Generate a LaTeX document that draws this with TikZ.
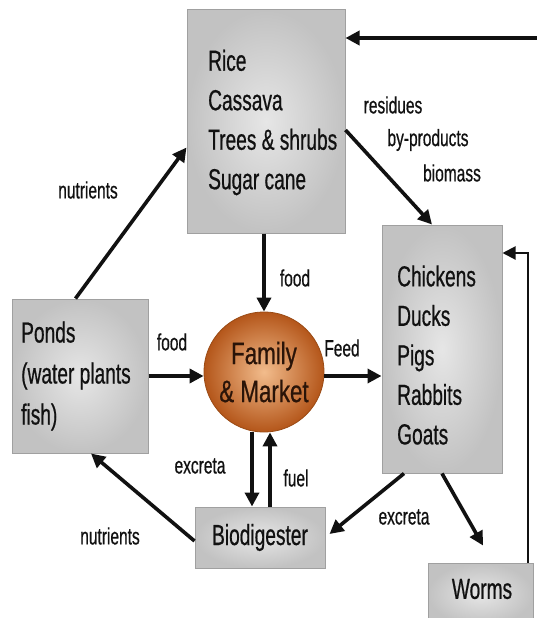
\documentclass[tikz,border=0pt]{standalone}
\usepackage{fontspec}
\setmainfont[FakeStretch=0.66,FakeBold=0.6]{Liberation Sans}
\newfontfamily\circfont[FakeStretch=0.72,FakeBold=0.6]{Liberation Sans}
\usetikzlibrary{arrows.meta,calc}
\definecolor{boxIn}{HTML}{E6E6E6}
\definecolor{boxOut}{HTML}{C2C2C2}
\definecolor{boxLine}{HTML}{A0A0A0}
\definecolor{circIn}{HTML}{F2BC8C}
\definecolor{circOut}{HTML}{B4561A}
\definecolor{circLine}{HTML}{9A4A14}
\definecolor{circText}{HTML}{2A1408}
\definecolor{ink}{HTML}{111111}
\begin{document}
\begin{tikzpicture}[x=1pt,y=-1pt,
  box/.style={draw=boxLine,line width=1pt,inner color=boxIn,outer color=boxOut,rectangle,inner sep=0pt},
  big/.style={font=\fontsize{29}{39.5}\selectfont,text=ink,align=left,inner sep=0pt},
  lbl/.style={font=\fontsize{23.5}{26}\selectfont,text=ink,inner sep=0pt},
  arr/.style={draw=ink,line width=3.6pt,-{Triangle[length=14pt,width=14pt]}},
  thinarr/.style={draw=ink,line width=2pt,-{Triangle[length=13pt,width=13pt]}}]
\clip (0,0) rectangle (537,618);
\fill[white] (0,0) rectangle (537,618);

% boxes
\node[box,minimum width=158pt,minimum height=223pt] (crops) at (266,121.5) {};
\node[big,anchor=west] (cropsT) at (208,122.5) {Rice\\Cassava\\Trees \& shrubs\\Sugar cane};
\node[box,minimum width=120pt,minimum height=248pt] (animals) at (442,349) {};
\node[big,anchor=west] (animalsT) at (397,355) {Chickens\\Ducks\\Pigs\\Rabbits\\Goats};
\node[box,minimum width=136pt,minimum height=154pt] (ponds) at (80,376) {};
\node[big,anchor=west,font=\fontsize{29}{41}\selectfont] (pondsT) at (21,376) {Ponds\\(water plants\\fish)};
\node[box,minimum width=130pt,minimum height=61pt,font=\fontsize{29}{32}\selectfont,text=ink] (bio) at (260,537.5) {Biodigester};
\node[box,minimum width=105pt,minimum height=62pt] (worms) at (480.5,594) {};
\node[big,anchor=center] (wormsT) at (482,589) {Worms};

% centre
\node[circle,minimum size=120pt,draw=circLine,line width=0.8pt,inner color=circIn,outer color=circOut,
      inner sep=0pt,font=\circfont\fontsize{31}{38}\selectfont,text=circText,align=center] (fam) at (264,372) {Family\\\& Market};

% connectors
\coordinate (topR) at (545,38);
\draw[arr] (topR) -- (crops.east |- topR);
\draw[arr] ([xshift=64pt]ponds.north west) -- ([yshift=-26pt]crops.west);
\draw[arr] ([yshift=-8.5pt]crops.east) -- ([xshift=-10pt]animals.north);
\draw[arr] (crops.south -| fam.north) -- (fam.north);
\draw[arr] (ponds.east) -- (fam.west |- ponds.east);
\draw[arr] (fam.east |- ponds.east) -- (animals.west |- ponds.east);
\draw[arr] ($(fam.south)+(-12,0)$) -- ($(bio.north)+(-8,0)$);
\draw[arr] ($(bio.north)+(10,0)$) -- ($(fam.south)+(6,0)$);
\draw[arr] ($(bio.west)+(0,3.5)$) -- ($(ponds.south)+(11,0)$);
\draw[arr] ($(animals.south)+(-38,0)$) -- ($(bio.east)+(4,-3.5)$);
\draw[arr] (animals.south) -- ($(worms.north)+(2.5,-17)$);
\draw[thinarr] ($(worms.north)+(47.5,0)$) |- ($(animals.east)+(0,-96)$);

% labels
\node[lbl] (nutA) at (88,190) {nutrients};
\node[lbl] (resid) at (393,105) {residues};
\node[lbl] (byprod) at (428,140) {by-products};
\node[lbl] (biomass) at (452,173) {biomass};
\node[lbl] (foodA) at (295,278) {food};
\node[lbl] (foodB) at (172,342) {food};
\node[lbl] (feed) at (342,348) {Feed};
\node[lbl] (excA) at (200,466) {excreta};
\node[lbl] (fuel) at (296,478) {fuel};
\node[lbl] (nutB) at (110,536) {nutrients};
\node[lbl] (excB) at (404,517) {excreta};
\end{tikzpicture}
\end{document}
